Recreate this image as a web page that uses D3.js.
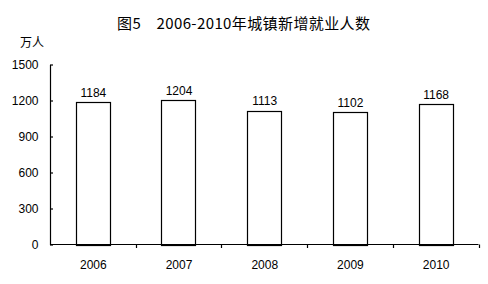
<!DOCTYPE html>
<html><head><meta charset="utf-8">
<script src="https://cdn.jsdelivr.net/npm/d3@7"></script>
<style>
html,body{margin:0;padding:0;background:#fff;}
svg{display:block;}
</style></head>
<body>
<script>
const titleText = "图5\u30002006-2010年城镇新增就业人数";
const unitLabel = "万人";
const years = ["2006","2007","2008","2009","2010"];
const values = [1184, 1204, 1113, 1102, 1168];
const yTicks = [0, 300, 600, 900, 1200, 1500];

const W = 488, H = 284;
const m = {left: 50, right: 9.5, top: 64.5, bottom: 39.5};
const numFont = "'Liberation Sans', Arial, sans-serif";

const svg = d3.select("body").append("svg").attr("width", W).attr("height", H);

const x = d3.scaleBand().domain(years).range([m.left, W - m.right]).paddingInner(0.6).paddingOuter(0.3);
const xEdge = d3.scaleLinear().domain([0, years.length]).range([m.left, W - m.right]);
const y = d3.scaleLinear().domain([0, 1500]).range([H - m.bottom, m.top]);

svg.append("text").attr("x", 243.5).attr("y", 28.5).attr("text-anchor","middle")
  .attr("font-family","'Noto Sans CJK SC', sans-serif").attr("font-size", 15)
  .attr("textLength", 253).attr("lengthAdjust","spacing")
  .attr("fill","#000").text(titleText);

svg.append("text").attr("x", 20).attr("y", 47)
  .attr("font-family","'Noto Sans CJK SC', sans-serif").attr("font-size", 12)
  .attr("fill","#000").text(unitLabel);

// bars
svg.append("g").selectAll("rect").data(values).join("rect")
  .attr("x", (d,i) => Math.round(x(years[i])) + 0.5)
  .attr("y", d => Math.round(y(d)) + 0.5)
  .attr("width", Math.round(x.bandwidth()))
  .attr("height", d => Math.round(y(0)) - Math.round(y(d)))
  .attr("fill","#fff").attr("stroke","#000").attr("stroke-width",1.2);

// value labels
svg.append("g").selectAll("text").data(values).join("text")
  .attr("x", (d,i) => x(years[i]) + x.bandwidth()/2 + 0.5)
  .attr("y", d => y(d) - 5.5)
  .attr("text-anchor","middle")
  .attr("font-family", numFont).attr("font-size", 12)
  .attr("fill","#000").text(d => d);

// y axis
const yAxis = svg.append("g").attr("transform", `translate(${m.left},0)`)
  .call(d3.axisLeft(y).tickValues(yTicks).tickFormat(d3.format("d")).tickSize(-3).tickPadding(11.5).tickSizeOuter(0));
yAxis.attr("font-family", numFont);
yAxis.select(".domain").attr("stroke","#000").attr("stroke-width",1.2);
yAxis.selectAll("line").attr("stroke","#000").attr("stroke-width",1.2);
yAxis.selectAll("text").attr("font-family", numFont).attr("font-size",12).attr("fill","#000");

// x axis baseline and boundary ticks
const xg = svg.append("g");
xg.append("line").attr("x1", m.left).attr("x2", W - m.right).attr("y1", y(0)).attr("y2", y(0))
  .attr("stroke","#000").attr("stroke-width",1.2);
xg.selectAll("line.tk").data(d3.range(1, years.length + 1)).join("line").attr("class","tk")
  .attr("x1", d => Math.round(xEdge(d)) + 0.5).attr("x2", d => Math.round(xEdge(d)) + 0.5)
  .attr("y1", y(0)).attr("y2", y(0) + 3.5)
  .attr("stroke","#000").attr("stroke-width",1.2);
xg.selectAll("text").data(years).join("text")
  .attr("x", d => x(d) + x.bandwidth()/2 + 0.5)
  .attr("y", 268.5).attr("text-anchor","middle")
  .attr("font-family", numFont).attr("font-size", 12)
  .attr("fill","#000").text(d => d);
</script>
</body></html>
